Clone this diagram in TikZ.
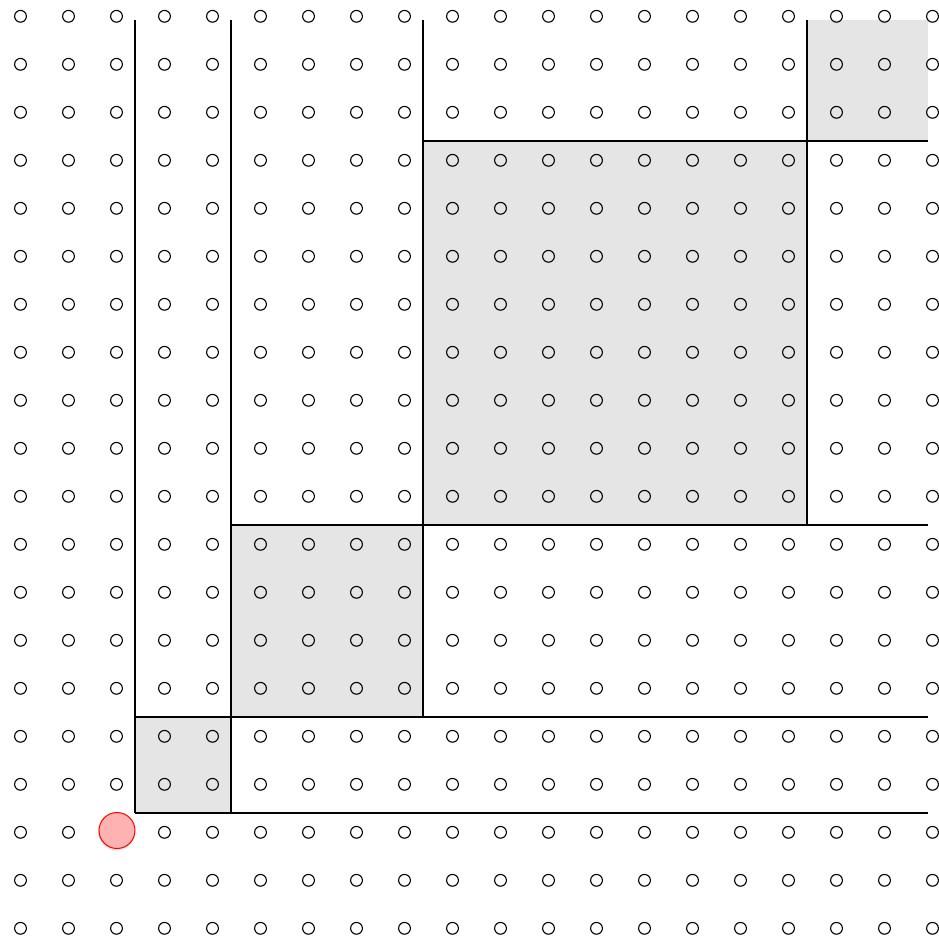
\documentclass[tikz,border=0pt]{standalone}
\begin{document}
\begin{tikzpicture}[x=1pt,y=-1pt,
  dotc/.style={circle,draw=black,line width=1.1pt,minimum size=11.8pt,inner sep=0pt},
  blockfill/.style={fill=black!10,draw=none},
  rule/.style={draw=black,line width=1.3pt},
  marker/.style={circle,fill=red!30,draw=red,line width=1pt,minimum size=36pt,inner sep=0pt}]
\useasboundingbox (0,0) rectangle (938,940);
% shaded blocks
\fill[blockfill] (807,20) rectangle (928,141);
\fill[blockfill] (423,141) rectangle (807,525);
\fill[blockfill] (231,525) rectangle (423,717);
\fill[blockfill] (135,717) rectangle (231,813);
% vertical rules
\draw[rule] (135,20) -- (135,813);
\draw[rule] (231,20) -- (231,813);
\draw[rule] (423,20) -- (423,717);
\draw[rule] (807,20) -- (807,525);
% horizontal rules
\draw[rule] (423,141) -- (928,141);
\draw[rule] (231,525) -- (928,525);
\draw[rule] (135,717) -- (928,717);
\draw[rule] (135,813) -- (928,813);
% grid of circles
\foreach \i in {0,...,19}{
  \foreach \j in {0,...,19}{
    \node[dotc] (c-\i-\j) at ({20.5+48*\i},{16.3+48*\j}) {};
  }
}
% marker
\fill[black,opacity=0.12] (116.5,832) circle (18.5pt);
\node[marker] (m) at (117,830.5) {};
\end{tikzpicture}
\end{document}
